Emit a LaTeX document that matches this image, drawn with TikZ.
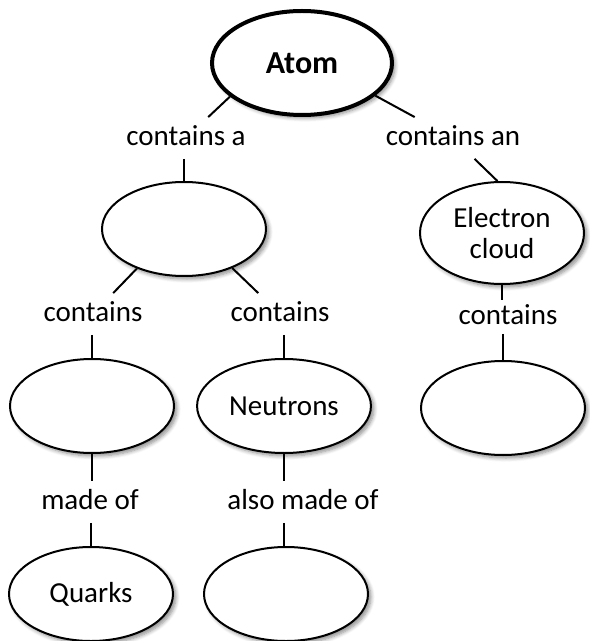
\documentclass[tikz,border=0pt]{standalone}
\usepackage{fontspec}
\setmainfont{Carlito}
\usepackage{tikz}
\usetikzlibrary{shapes.geometric,shadows.blur}

\begin{document}
\begin{tikzpicture}[
  x=0.5pt,y=-0.5pt,
  every node/.style={font=\fontsize{14.5}{15.5}\selectfont},
  concept/.style={draw,ellipse,line width=1pt,fill=white,minimum width=82pt,minimum height=47pt,align=center,
    blur shadow={shadow xshift=1.5pt,shadow yshift=-1.5pt,shadow opacity=45,shadow blur steps=6}},
  topic/.style={concept,line width=2pt,minimum width=90pt,minimum height=52pt,font=\fontsize{16}{18}\selectfont\bfseries},
  link/.style={inner sep=4pt,text height=10pt,text depth=2.5pt},
  edge/.style={line width=1pt},
]
  \useasboundingbox (0,0) rectangle (589,641);
  \node[topic] (atom) at (302,63) {Atom};
  \node[link] (lblA) at (186,138) {contains a};
  \node[link] (lblB) at (453,138) {contains an};
  \node[concept] (nucleus) at (184,229) {};
  \node[concept,minimum height=51pt] (electron) at (502,233) {Electron\\cloud};
  \node[link] (lblC) at (93,314) {contains};
  \node[link] (lblD) at (280,314) {contains};
  \node[link,inner ysep=2pt] (lblE) at (508,317) {contains};
  \node[concept] (protons) at (92,406) {};
  \node[concept] (neutrons) at (284,406) {Neutrons};
  \node[concept] (orbit) at (503,408) {};
  \node[link] (lblF) at (90,502) {made of};
  \node[link] (lblG) at (303,502) {also made of};
  \node[concept] (quarks) at (91,594) {Quarks};
  \node[concept] (parts) at (286,594) {};

  \draw[edge] (atom.205) -- (lblA);
  \draw[edge] (atom.336) -- (lblB);
  \draw[edge] (lblA.south -| nucleus) -- (nucleus);
  \draw[edge] (lblB) -- (electron.95);
  \draw[edge] (nucleus.220) -- (lblC);
  \draw[edge] (nucleus.321) -- (lblD);
  \draw[edge] (lblC.south -| protons) -- (protons);
  \draw[edge] (lblD.south -| neutrons) -- (neutrons);
  \draw[edge] (electron) -- (lblE.north -| electron);
  \draw[edge] (lblE.south -| orbit) -- (orbit);
  \draw[edge] (protons) -- (lblF.north -| protons);
  \draw[edge] (lblF.south -| quarks) -- (quarks);
  \draw[edge] (neutrons) -- (lblG.north -| neutrons);
  \draw[edge] (lblG.south -| neutrons) -- (parts.north -| neutrons);
\end{tikzpicture}
\end{document}
